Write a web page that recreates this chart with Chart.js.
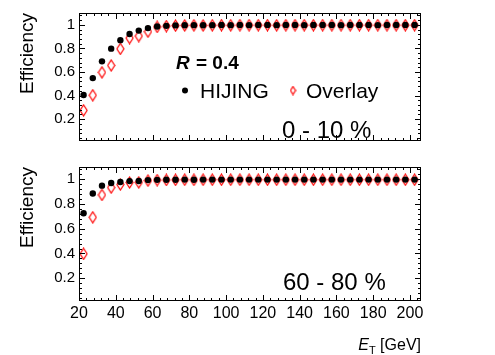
<!DOCTYPE html>
<html lang="en">
<head>
<meta charset="UTF-8">
<title>Efficiency vs ET</title>
<script src="https://cdn.jsdelivr.net/npm/chart.js"></script>
<style>
    body {
        margin: 0;
        background: #fff;
        width: 495px;
        height: 355px;
        overflow: hidden;
    }

    .panel {
        position: absolute;
        left: 0;
    }
</style>
</head>
<body>
<canvas id="topChart" class="panel" width="495" height="154" style="top:0px"></canvas>
<canvas id="bottomChart" class="panel" width="495" height="201" style="top:154px"></canvas>

<script>
    // jet ET bin centres [GeV]
    const etBins = [22.5, 27.5, 32.5, 37.5, 42.5, 47.5, 52.5, 57.5, 62.5, 67.5,
        72.5, 77.5, 82.5, 87.5, 92.5, 97.5, 102.5, 107.5, 112.5, 117.5,
        122.5, 127.5, 132.5, 137.5, 142.5, 147.5, 152.5, 157.5, 162.5, 167.5,
        172.5, 177.5, 182.5, 187.5, 192.5, 197.5, 202.5];

    // 0 - 10 % centrality
    const hijingCentral = [0.405, 0.548, 0.690, 0.798, 0.870, 0.922, 0.951, 0.972, 0.986, 0.991,
        0.995, 0.996, 0.997, 0.996, 0.997, 0.998, 0.997, 0.998, 0.997, 0.998,
        0.998, 0.997, 0.998, 0.998, 0.997, 0.998, 0.998, 0.998, 0.997, 0.998,
        0.998, 0.998, 0.997, 0.998, 0.998, 0.998, 0.998];
    const overlayCentral = [0.275, 0.403, 0.597, 0.656, 0.796, 0.888, 0.905, 0.942, 0.982, 0.989,
        0.993, 0.995, 0.996, 0.995, 0.996, 0.997, 0.996, 0.997, 0.997, 0.997,
        0.997, 0.996, 0.997, 0.997, 0.997, 0.997, 0.997, 0.997, 0.997, 0.997,
        0.997, 0.997, 0.997, 0.997, 0.997, 0.997, 0.997];

    // 60 - 80 % centrality
    const hijingPeripheral = [0.725, 0.886, 0.949, 0.971, 0.979, 0.986, 0.987, 0.994, 0.996, 0.997,
        0.997, 0.998, 0.997, 0.998, 0.998, 0.998, 0.998, 0.998, 0.998, 0.998,
        0.998, 0.998, 0.998, 0.998, 0.998, 0.998, 0.998, 0.998, 0.998, 0.998,
        0.998, 0.998, 0.998, 0.998, 0.998, 0.998, 0.998];
    const overlayPeripheral = [0.397, 0.693, 0.874, 0.933, 0.958, 0.975, 0.976, 0.990, 0.994, 0.995,
        0.996, 0.997, 0.996, 0.997, 0.997, 0.997, 0.997, 0.997, 0.997, 0.997,
        0.997, 0.997, 0.997, 0.997, 0.997, 0.997, 0.997, 0.997, 0.997, 0.997,
        0.997, 0.997, 0.997, 0.997, 0.997, 0.997, 0.997];

    const xLabelTicks = [20, 40, 60, 80, 100, 120, 140, 160, 180, 200];
    const yLabelTicks = [0.2, 0.4, 0.6, 0.8, 1];

    const FONT = "'Liberation Sans', Arial, Helvetica, sans-serif";

    // open red diamond used as marker
    function makeDiamond(w, h) {
        const c = document.createElement('canvas');
        c.width = w + 2;
        c.height = h + 2;
        const g = c.getContext('2d');
        g.strokeStyle = '#ff0000';
        g.lineWidth = 1.2;
        g.beginPath();
        g.moveTo(c.width / 2, 1);
        g.lineTo(c.width - 1, c.height / 2);
        g.lineTo(c.width / 2, c.height - 1);
        g.lineTo(1, c.height / 2);
        g.closePath();
        g.stroke();
        return c;
    }
    const diamond = makeDiamond(7, 11);
    const diamondSmall = makeDiamond(5, 8);

    function toPoints(vals) {
        return etBins.map((x, i) => ({x: x, y: vals[i]}));
    }

    // ROOT-like frame with inward ticks on all four sides
    function drawFrame(chart) {
        const {ctx, chartArea: a, scales: {x, y}} = chart;
        ctx.save();
        ctx.strokeStyle = '#000';
        ctx.lineWidth = 1;
        ctx.strokeRect(a.left + 0.5, a.top + 0.5, a.right - a.left - 1, a.bottom - a.top - 1);
        ctx.beginPath();
        for (let v = 20; v <= 206; v += 4) {
            const px = Math.round(x.getPixelForValue(v)) + 0.5;
            const len = xLabelTicks.includes(v) ? 6 : 3;
            ctx.moveTo(px, a.bottom);
            ctx.lineTo(px, a.bottom - len);
            ctx.moveTo(px, a.top);
            ctx.lineTo(px, a.top + len);
        }
        for (let i = 1; i <= 27; i++) {
            const py = Math.round(y.getPixelForValue(i * 0.04)) + 0.5;
            const len = i % 5 === 0 ? 6 : 3;
            ctx.moveTo(a.left, py);
            ctx.lineTo(a.left + len, py);
            ctx.moveTo(a.right, py);
            ctx.lineTo(a.right - len, py);
        }
        ctx.stroke();
        ctx.restore();
    }

    function text(ctx, str, x, y, font, align) {
        ctx.font = font;
        ctx.textAlign = align || 'left';
        ctx.textBaseline = 'alphabetic';
        ctx.fillStyle = '#000';
        ctx.fillText(str, x, y);
    }

    const topDecor = {
        id: 'topDecor',
        afterDraw(chart) {
            const ctx = chart.ctx;
            drawFrame(chart);
            ctx.save();
            // R = 0.4
            ctx.font = 'italic bold 19px ' + FONT;
            const rw = ctx.measureText('R').width;
            text(ctx, 'R', 176, 69, 'italic bold 19px ' + FONT);
            text(ctx, ' = 0.4', 176 + rw + 1, 69, 'bold 19px ' + FONT);
            // legend
            ctx.fillStyle = '#000';
            ctx.beginPath();
            ctx.arc(185, 90.5, 3, 0, Math.PI * 2);
            ctx.fill();
            text(ctx, 'HIJING', 200, 98, '21px ' + FONT);
            ctx.drawImage(diamondSmall, 293 - diamondSmall.width / 2, 90.5 - diamondSmall.height / 2);
            text(ctx, 'Overlay', 306, 98, '21px ' + FONT);
            text(ctx, '0 - 10 %', 282, 138, '24px ' + FONT);
            ctx.restore();
        }
    };

    const bottomDecor = {
        id: 'bottomDecor',
        afterDraw(chart) {
            const ctx = chart.ctx;
            drawFrame(chart);
            ctx.save();
            text(ctx, '60 - 80 %', 283, 136, '24px ' + FONT);
            // axis title E_T [GeV], right aligned
            ctx.font = '16px ' + FONT;
            const wRest = ctx.measureText(' [GeV]').width;
            ctx.font = '11px ' + FONT;
            const wSub = ctx.measureText('T').width;
            ctx.font = 'italic 16px ' + FONT;
            const wE = ctx.measureText('E').width;
            const right = 421;
            const base = 196;
            text(ctx, ' [GeV]', right - wRest, base, '16px ' + FONT);
            text(ctx, 'T', right - wRest - wSub, base + 4, '11px ' + FONT);
            text(ctx, 'E', right - wRest - wSub - wE, base, 'italic 16px ' + FONT);
            ctx.restore();
        }
    };

    function makeOptions(showX, padTop, padBottom) {
        return {
            responsive: false,
            devicePixelRatio: 1,
            animation: false,
            layout: {padding: {left: 0, right: 74, top: padTop, bottom: padBottom}},
            plugins: {legend: {display: false}, tooltip: {enabled: false}},
            scales: {
                x: {
                    type: 'linear',
                    min: 20,
                    max: 206,
                    display: showX,
                    afterFit: s => { s.height = showX ? 54 : 0; },
                    grid: {display: false, drawTicks: false},
                    border: {display: false},
                    ticks: {
                        stepSize: 20,
                        includeBounds: false,
                        maxRotation: 0,
                        autoSkip: false,
                        padding: 3,
                        color: '#000',
                        font: {family: FONT, size: 16},
                        callback: v => xLabelTicks.includes(v) ? String(v) : ''
                    }
                },
                y: {
                    min: 0.015,
                    max: 1.1,
                    afterFit: s => { s.width = 79; },
                    grid: {display: false, drawTicks: false},
                    border: {display: false},
                    ticks: {
                        stepSize: 0.2,
                        includeBounds: false,
                        autoSkip: false,
                        padding: 4,
                        color: '#000',
                        font: {family: FONT, size: 15},
                        callback: v => {
                            const r = Math.round(v * 10) / 10;
                            return yLabelTicks.includes(r) ? String(r) : '';
                        }
                    },
                    title: {
                        display: true,
                        text: 'Efficiency',
                        align: 'end',
                        color: '#000',
                        padding: {top: 16, bottom: 0},
                        font: {family: FONT, size: 19}
                    }
                }
            }
        };
    }

    function makeDatasets(hijing, overlay) {
        return [{
            label: 'HIJING',
            data: toPoints(hijing),
            order: 0,
            showLine: false,
            pointStyle: 'circle',
            pointRadius: 3.2,
            pointBackgroundColor: '#000',
            pointBorderWidth: 0
        }, {
            label: 'Overlay',
            data: toPoints(overlay),
            order: 1,
            showLine: false,
            pointStyle: diamond,
            pointRadius: 5
        }];
    }

    new Chart(document.getElementById('topChart'), {
        type: 'scatter',
        data: {datasets: makeDatasets(hijingCentral, overlayCentral)},
        options: makeOptions(false, 8, 4),
        plugins: [topDecor]
    });

    new Chart(document.getElementById('bottomChart'), {
        type: 'scatter',
        data: {datasets: makeDatasets(hijingPeripheral, overlayPeripheral)},
        options: makeOptions(true, 5, 0),
        plugins: [bottomDecor]
    });
</script>
</body>
</html>
